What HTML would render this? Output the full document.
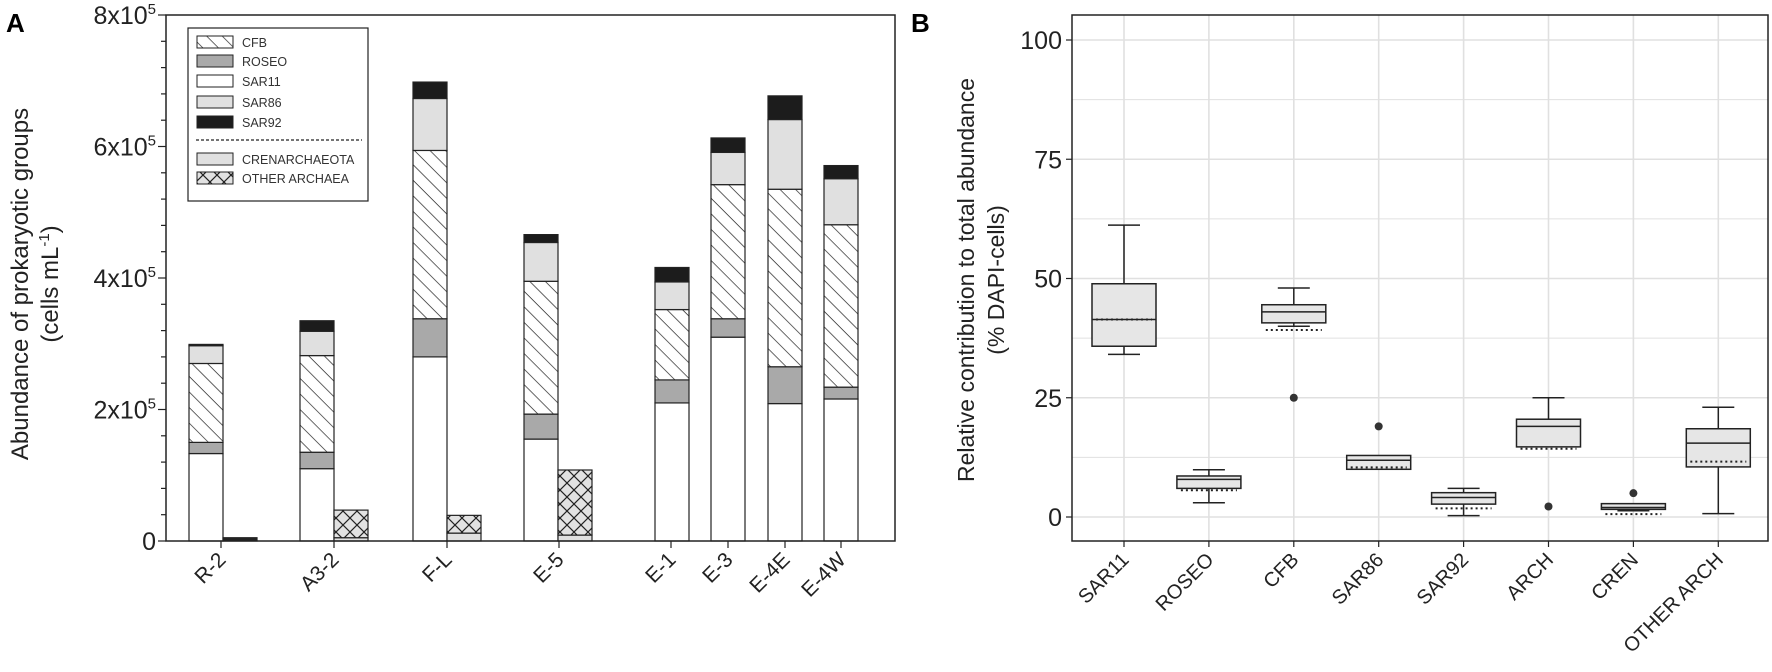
<!DOCTYPE html>
<html><head><meta charset="utf-8"><style>
html,body{margin:0;padding:0;background:#fff;}
svg{display:block;font-family:"Liberation Sans",sans-serif;}
</style></head><body>
<svg id="fig" width="1772" height="672" viewBox="0 0 1772 672" xmlns="http://www.w3.org/2000/svg">
<defs>
<pattern id="diag" patternUnits="userSpaceOnUse" width="11" height="11" patternTransform="rotate(45)">
<rect width="11" height="11" fill="#fff"/><line x1="0" y1="0" x2="11" y2="0" stroke="#222" stroke-width="1.4"/></pattern>
<pattern id="cross" patternUnits="userSpaceOnUse" width="14" height="14">
<rect width="14" height="14" fill="#e2e2e2"/><path d="M0,0L14,14M14,0L0,14" stroke="#222" stroke-width="1.2"/></pattern>
</defs>
<g id="panelA"></g>
<g id="panelB"></g>
</svg>
<script>
// ---------- Panel A data (x10^5 cells/mL, per layer) ----------
const sites = ["R-2","A3-2","F-L","E-5","E-1","E-3","E-4E","E-4W"];
const sar11 = [1.33,1.10,2.80,1.55,2.10,3.10,2.09,2.16];
const roseo = [0.17,0.25,0.58,0.38,0.35,0.28,0.56,0.18];
const cfb   = [1.20,1.47,2.56,2.02,1.07,2.04,2.70,2.47];
const sar86 = [0.27,0.37,0.79,0.59,0.42,0.49,1.06,0.70];
const sar92 = [0.02,0.16,0.25,0.12,0.22,0.22,0.36,0.20];
const crenA = [0.00,0.05,0.12,0.09];
const otherA= [0.05,0.42,0.27,0.99];
const yTicksA = [0,2,4,6,8];
// ---------- Panel B data (% DAPI cells) ----------
const groups = ["SAR11","ROSEO","CFB","SAR86","SAR92","ARCH","CREN","OTHER ARCH"];
const q1   = [35.8,6.0,40.7,10.0,2.7,14.7,1.6,10.5];
const med  = [41.4,7.9,43.0,11.9,4.1,19.0,2.0,15.5];
const q3   = [48.9,8.6,44.5,12.9,5.1,20.5,2.8,18.5];
const wLo  = [34.1,3.0,40.0,10.0,0.3,14.7,1.3,0.7];
const wHi  = [61.2,9.9,48.0,12.9,6.0,25.0,2.8,23.0];
const meanV= [41.4,5.6,39.2,10.4,1.8,14.3,0.6,11.6];
const outliers = [[],[],[25.0],[19.0],[],[2.2],[5.0],[]];
const yTicksB = [0,25,50,75,100];

const NS="http://www.w3.org/2000/svg";
function mk(tag,attrs,parent,text){const e=document.createElementNS(NS,tag);for(const k in attrs)e.setAttribute(k,attrs[k]);if(text!==undefined)e.textContent=text;parent.appendChild(e);return e;}

// ---------- Panel A ----------
const A=document.getElementById('panelA');
const axL=166,axR=895,axT=15,axB=541;
const yA=v=>axB-(v/8)*(axB-axT);
const barW=34;
const mainX=[189,300,413,524,655,711,768,824];
const tickX=[221,334,447,559,671,728,785,841];
let t=mk('text',{x:6,y:32,'font-size':26,'font-weight':'bold'},A,'A');


const layers=[[sar11,'#fff','sar11'],[roseo,'#a9a9a9','roseo'],[cfb,'url(#diag)','cfb'],[sar86,'#e0e0e0','sar86'],[sar92,'#1c1c1c','sar92']];
sites.forEach((s,i)=>{
  let base=0;
  layers.forEach(([arr,fill,nm])=>{
    const top=base+arr[i];
    const r=mk('rect',{x:mainX[i],y:yA(top),width:barW,height:yA(base)-yA(top),fill:fill,stroke:'#222','stroke-width':1.2},A);
    
    
    base=top;
  });
  if(i<crenA.length){
    const ax=mainX[i]+barW;
    const c1=crenA[i],c2=c1+otherA[i];
    if(c1>0){const r=mk('rect',{x:ax,y:yA(c1),width:barW,height:yA(0)-yA(c1),fill:'#e0e0e0',stroke:'#222','stroke-width':1.2},A);
      
      }
    const r2=mk('rect',{x:ax,y:yA(c2),width:barW,height:yA(c1)-yA(c2),fill:i===0?'#222':'url(#cross)',stroke:'#222','stroke-width':1.2},A);
    
    
  }
  mk('line',{x1:tickX[i],y1:axB,x2:tickX[i],y2:axB+7,stroke:'#222','stroke-width':1.2},A);
  const lb=mk('text',{x:0,y:0,'font-size':21,'text-anchor':'end',fill:'#222',transform:`translate(${tickX[i]+6},${axB+20}) rotate(-45)`},A,s);
  
  
});
let ax=mk('rect',{x:axL,y:axT,width:axR-axL,height:axB-axT,fill:'none',stroke:'#222','stroke-width':1.5},A);


for(let v=0;v<=8.001;v+=0.4){mk('line',{x1:axL-(Math.abs(v/2-Math.round(v/2))<0.01?8:5),y1:yA(v),x2:axL,y2:yA(v),stroke:'#222','stroke-width':1.2},A);}
yTicksA.forEach(v=>{
  const g=mk('text',{x:axL-10,y:yA(v)+9,'font-size':25,'text-anchor':'end',fill:'#222'},A);
  
  
  if(v===0){g.textContent='0';}else{g.textContent=v+'x10';mk('tspan',{dy:-10,'font-size':15},g,'5');}
});
t=mk('text',{'font-size':24,'text-anchor':'middle',fill:'#222',transform:'translate(28,284) rotate(-90)'},A,'Abundance of prokaryotic groups');


t=mk('text',{'font-size':24,'text-anchor':'middle',fill:'#222',transform:'translate(58,284) rotate(-90)'},A,'(cells mL');


mk('tspan',{dy:-9,'font-size':15},t,'-1');mk('tspan',{dy:9},t,')');
// legend
const L=mk('g',{},A);


mk('rect',{x:188,y:28,width:180,height:173,fill:'#fff',stroke:'#222','stroke-width':1.2},L);
const legItems=[['CFB','url(#diag)',42],['ROSEO','#a9a9a9',61],['SAR11','#fff',81],['SAR86','#e0e0e0',102],['SAR92','#1c1c1c',122],['CRENARCHAEOTA','#e0e0e0',159],['OTHER ARCHAEA','url(#cross)',178]];
legItems.forEach(([n,f,y])=>{
  const e=mk('g',{},L);
  
  
  mk('rect',{x:197,y:y-6,width:36,height:12,fill:f,stroke:'#222','stroke-width':1},e);
  mk('text',{x:242,y:y+5,'font-size':12.5,fill:'#333'},e,n);
});
mk('line',{x1:196,y1:140,x2:362,y2:140,stroke:'#222','stroke-width':1.2,'stroke-dasharray':'3,2'},L);

// ---------- Panel B ----------
const B=document.getElementById('panelB');
const bL=1072,bR=1768,bT=15,bB=541;
const yB=v=>517-v*4.77;
const catX=i=>1124+i*84.9;
t=mk('text',{x:911,y:32,'font-size':26,'font-weight':'bold'},B,'B');


for(let v=0;v<=100;v+=12.5){mk('line',{x1:bL,y1:yB(v),x2:bR,y2:yB(v),stroke:'#e0e0e0','stroke-width':v%25===0?1.6:1},B);}
groups.forEach((g,i)=>{mk('line',{x1:catX(i),y1:bT,x2:catX(i),y2:bB,stroke:'#e0e0e0','stroke-width':1.6},B);});
const hw=32;
groups.forEach((g,i)=>{
  const x=catX(i);
  const G=mk('g',{},B);
  
  
  if(wHi[i]>q3[i]+0.2){mk('line',{x1:x,y1:yB(q3[i]),x2:x,y2:yB(wHi[i]),stroke:'#222','stroke-width':1.5},G);mk('line',{x1:x-hw/2,y1:yB(wHi[i]),x2:x+hw/2,y2:yB(wHi[i]),stroke:'#222','stroke-width':1.5},G);}
  if(wLo[i]<q1[i]-0.2){mk('line',{x1:x,y1:yB(q1[i]),x2:x,y2:yB(wLo[i]),stroke:'#222','stroke-width':1.5},G);mk('line',{x1:x-hw/2,y1:yB(wLo[i]),x2:x+hw/2,y2:yB(wLo[i]),stroke:'#222','stroke-width':1.5},G);}
  mk('rect',{x:x-hw,y:yB(q3[i]),width:hw*2,height:Math.max(1,yB(q1[i])-yB(q3[i])),fill:'#e6e6e6',stroke:'#222','stroke-width':1.5},G);
  mk('line',{x1:x-hw,y1:yB(med[i]),x2:x+hw,y2:yB(med[i]),stroke:'#222','stroke-width':1.5},G);
  mk('line',{x1:x-hw+4,y1:yB(meanV[i]),x2:x+hw-4,y2:yB(meanV[i]),stroke:'#222','stroke-width':2,'stroke-dasharray':'2,3'},G);
  outliers[i].forEach(o=>mk('circle',{cx:x,cy:yB(o),r:4,fill:'#333'},G));
  mk('line',{x1:x,y1:bB,x2:x,y2:bB+6,stroke:'#222','stroke-width':1.2},B);
  const lb=mk('text',{'font-size':20,'text-anchor':'end',fill:'#222',transform:`translate(${x+6},${bB+20}) rotate(-45)`},B,g);
  
  
});
ax=mk('rect',{x:bL,y:bT,width:bR-bL,height:bB-bT,fill:'none',stroke:'#222','stroke-width':1.5},B);


yTicksB.forEach(v=>{
  mk('line',{x1:bL-6,y1:yB(v),x2:bL,y2:yB(v),stroke:'#222','stroke-width':1.2},B);
  const tx=mk('text',{x:bL-10,y:yB(v)+9,'font-size':25,'text-anchor':'end',fill:'#222'},B,String(v));
  
  
});
t=mk('text',{'font-size':23,'text-anchor':'middle',fill:'#222',transform:'translate(974,280) rotate(-90)'},B,'Relative contribution to total abundance');


t=mk('text',{'font-size':23,'text-anchor':'middle',fill:'#222',transform:'translate(1004,280) rotate(-90)'},B,'(% DAPI-cells)');


</script>
</body></html>
